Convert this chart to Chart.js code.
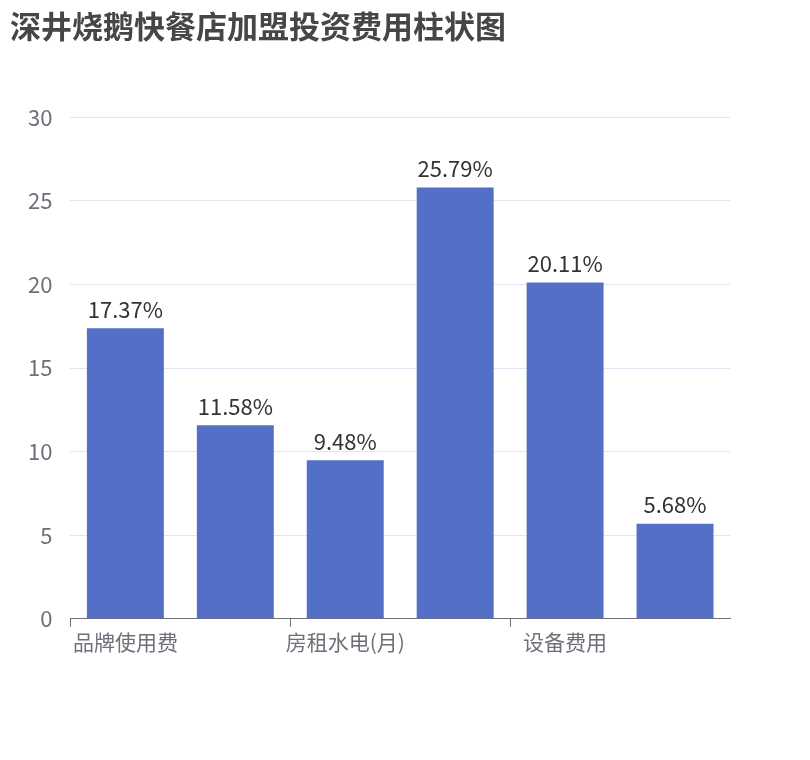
<!DOCTYPE html>
<html>
<head>
<meta charset="utf-8">
<script src="https://cdn.jsdelivr.net/npm/chart.js@4"></script>
<style>body{margin:0;background:#fff}</style>
</head>
<body>
<canvas id="barChart" width="810" height="760"></canvas>
<script>
// datos del gráfico
var categories = ['品牌使用费', '加盟保证金', '房租水电(月)', '装修费用', '设备费用', '首批进货'];
var values = [17.37, 11.58, 9.48, 25.79, 20.11, 5.68];
var yTicks = [0, 5, 10, 15, 20, 25, 30];

var font = '"Noto Sans CJK SC", "Noto Sans", sans-serif';

// etiquetas encima de las barras
var barLabels = {
    id: 'barLabels',
    afterDatasetsDraw: function(chart) {
        var ctx = chart.ctx;
        var meta = chart.getDatasetMeta(0);
        ctx.save();
        ctx.font = '22px ' + font;
        ctx.fillStyle = '#333';
        ctx.textAlign = 'center';
        ctx.textBaseline = 'bottom';
        meta.data.forEach(function(bar, i) {
            ctx.fillText(values[i].toFixed(2) + '%', bar.x, bar.y - 8);
        });
        ctx.restore();
    }
};

var ctx = document.getElementById('barChart').getContext('2d');
var barChart = new Chart(ctx, {
    type: 'bar',
    data: {
        labels: categories,
        datasets: [{
            data: values,
            backgroundColor: '#5470c6',
            categoryPercentage: 0.7,
            barPercentage: 1
        }]
    },
    options: {
        responsive: false,
        animation: false,
        layout: { padding: { left: 10, right: 80, top: 4, bottom: 102 } },
        plugins: {
            legend: { display: false },
            tooltip: { enabled: false },
            title: {
                display: true,
                text: '深井烧鹅快餐店加盟投资费用柱状图',
                align: 'start',
                color: '#464646',
                font: { family: font, size: 31, weight: 'bold' },
                padding: { top: 4, bottom: 72 }
            }
        },
        scales: {
            x: {
                offset: true,
                grid: {
                    offset: true,
                    drawOnChartArea: false,
                    tickLength: 8,
                    color: function(c) { return c.index % 2 === 0 ? '#6e7079' : 'rgba(0,0,0,0)'; }
                },
                border: { color: '#6e7079' },
                ticks: {
                    autoSkip: false,
                    maxRotation: 0,
                    color: '#6e7079',
                    font: { family: font, size: 21 },
                    callback: function(v, i) { return i % 2 === 0 ? categories[i] : ''; }
                }
            },
            y: {
                min: 0,
                max: 30,
                afterBuildTicks: function(axis) { axis.ticks = yTicks.map(function(v) { return { value: v }; }); },
                grid: { color: '#e0e6f1', drawTicks: false },
                border: { display: false },
                ticks: {
                    padding: 18,
                    color: '#6e7079',
                    font: { family: font, size: 22 }
                }
            }
        }
    },
    plugins: [barLabels]
});
</script>
</body>
</html>
